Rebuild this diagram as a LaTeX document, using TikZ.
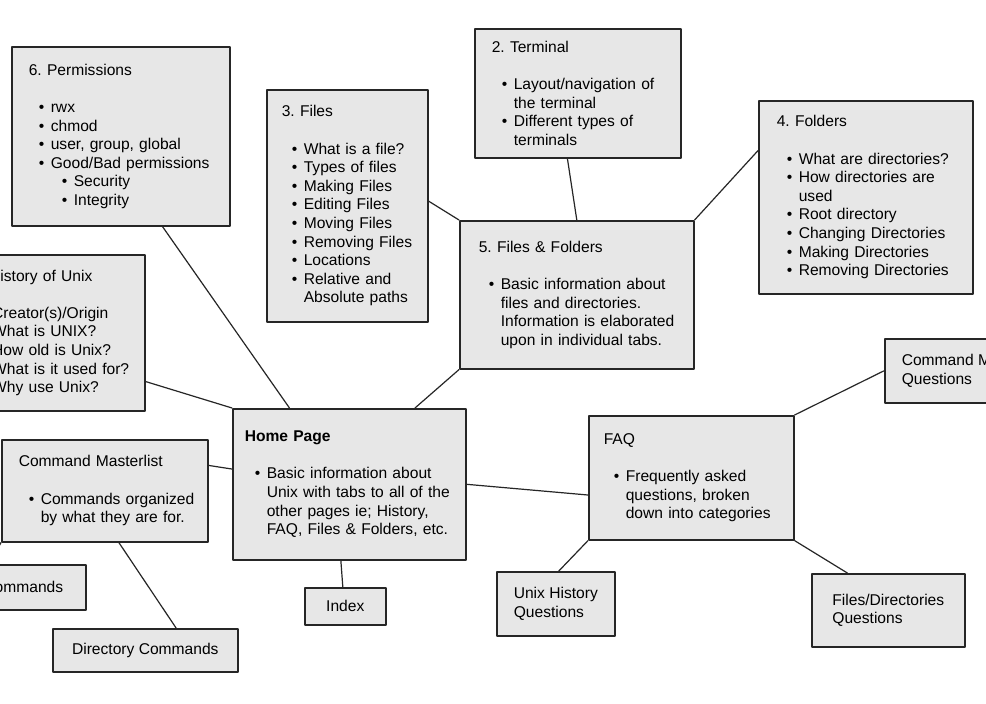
\documentclass[tikz,border=0pt]{standalone}
\usepackage{fontspec}
\setmainfont{Liberation Sans}
\usetikzlibrary{calc}
\frenchspacing

\definecolor{boxgrey}{HTML}{E7E7E7}
\definecolor{edge}{HTML}{262626}
% bullet lines
\newcommand{\itm}[1]{\mbox{\hspace*{10pt}\makebox[12pt][l]{\textbullet}#1}}
\newcommand{\sitm}[1]{\mbox{\hspace*{33pt}\makebox[12pt][l]{\textbullet}#1}}
\newcommand{\cnt}[1]{\mbox{\hspace*{22pt}#1}}
\newcommand{\pln}[1]{\mbox{\hspace*{3pt}#1}}

\begin{document}
\begin{tikzpicture}[x=1pt, y=-1pt, line cap=round, line join=round,
	page/.style={draw=edge, line width=1.6pt, fill=boxgrey, anchor=north west, align=left,
		inner xsep=16pt, inner ysep=0pt, font=\fontsize{15.6}{18.6}\selectfont},
	tab/.style={page, inner xsep=17pt},
	link/.style={draw=edge, line width=1.2pt}]
	\useasboundingbox (0,0) rectangle (986,704);
	\fill[white] (0,0) rectangle (986,704);
	\clip (0,0) rectangle (986,704);
	
	% --- 1. TOPIC PAGES ---
	\node[page, inner xsep=17pt, text width=184pt, minimum height=179pt] (perm) at (11,46) {6. Permissions\\[18.6pt]
		\itm{rwx}\\ \itm{chmod}\\ \itm{user, group, global}\\ \itm{Good/Bad permissions}\\
		\sitm{Security}\\ \sitm{Integrity}};
	\node[page, inner xsep=15pt, text width=131pt, minimum height=232pt] (files) at (266,89) {3. Files\\[18.6pt]
		\itm{What is a file?}\\ \itm{Types of files}\\ \itm{Making Files}\\ \itm{Editing Files}\\
		\itm{Moving Files}\\ \itm{Removing Files}\\ \itm{Locations}\\ \itm{Relative and}\\ \cnt{Absolute paths}};
	\node[page, inner xsep=17pt, text width=172pt, minimum height=129pt] (term) at (474,28) {2. Terminal\\[18.6pt]
		\itm{Layout/navigation of}\\ \cnt{the terminal}\\ \itm{Different types of}\\ \cnt{terminals}};
	\node[page, inner xsep=18pt, text width=178pt, minimum height=193pt] (fold) at (758,100) {4. Folders\\[18.6pt]
		\itm{What are directories?}\\ \itm{How directories are}\\ \cnt{used}\\ \itm{Root directory}\\
		\itm{Changing Directories}\\ \itm{Making Directories}\\ \itm{Removing Directories}};
	\node[page, inner xsep=19pt, text width=196pt, minimum height=148pt] (ff) at (459,220) {5. Files \& Folders\\[18.6pt]
		\itm{Basic information about}\\ \cnt{files and directories.}\\ \cnt{Information is elaborated}\\ \cnt{upon in individual tabs.}};
	\node[page, anchor=north east, text width=140pt, minimum height=156pt] (hist) at (146,254) {History of Unix\\[18.6pt]
		\pln{Creator(s)/Origin}\\ \pln{What is UNIX?}\\ \pln{How old is Unix?}\\ \pln{What is it used for?}\\ \pln{Why use Unix?}};
	
	% --- 2. HOME PAGE ---
	\node[page, inner xsep=12pt, text width=209pt, minimum height=151pt] (home) at (232,408) {\textbf{Home Page}\\[18.6pt]
		\itm{Basic information about}\\ \cnt{Unix with tabs to all of the}\\ \cnt{other pages ie; History,}\\ \cnt{FAQ, Files \& Folders, etc.}};
	\node[tab, minimum width=81pt, minimum height=37pt] (idx) at (304,587) {Index};
	
	% --- 3. COMMANDS ---
	\node[page, inner xsep=17pt, text width=172pt, minimum height=102pt] (cml) at (1,439) {Command Masterlist\\[18.6pt]
		\itm{Commands organized}\\ \cnt{by what they are for.}};
	\node[tab, anchor=north east, inner xsep=23pt, minimum height=45pt] (cmds) at (87,564) {Commands};
	\node[tab, minimum width=185pt, minimum height=43pt] (dir) at (52,628) {Directory Commands};
	\coordinate (cmlOut) at (-20,580);
	
	% --- 4. FAQ ---
	\node[page, inner xsep=15pt, text width=175pt, minimum height=124pt] (faq) at (588,415) {FAQ\\[18.6pt]
		\itm{Frequently asked}\\ \cnt{questions, broken}\\ \cnt{down into categories}};
	\node[tab, minimum height=64pt] (cmq) at (884,338) {Command Masterlist\\Questions};
	\node[tab, minimum width=118pt, minimum height=64pt] (uhq) at (496,571) {Unix History\\Questions};
	\node[tab, minimum width=153pt, minimum height=73pt] (fdq) at (811,573) {Files/Directories\\Questions};
	
	% --- 5. CONNECTORS ---
	\draw[link] ($(perm.south west)!.69!(perm.south east)$) -- ($(home.north west)!.245!(home.north east)$);
	\draw[link] ($(files.north east)!.48!(files.south east)$) -- (ff.north west);
	\draw[link] ($(term.south west)!.45!(term.south east)$) -- (ff.north);
	\draw[link] ($(fold.north west)!.26!(fold.south west)$) -- (ff.north east);
	\draw[link] (ff.south west) -- ($(home.north west)!.78!(home.north east)$);
	\draw[link] ($(hist.north east)!.81!(hist.south east)$) -- (home.north west);
	\draw[link] ($(cml.north east)!.255!(cml.south east)$) -- ($(home.north west)!.40!(home.south west)$);
	\draw[link] ($(cml.south west)!.568!(cml.south east)$) -- ($(dir.north west)!.665!(dir.north east)$);
	\draw[link] (cml.south west) -- (cmlOut);
	\draw[link] ($(home.south west)!.464!(home.south east)$) -- ($(idx.north west)!.47!(idx.north east)$);
	\draw[link] (home.east) -- ($(faq.north west)!.637!(faq.south west)$);
	\draw[link] (faq.north east) -- (cmq.west);
	\draw[link] (faq.south west) -- ($(uhq.north west)!.525!(uhq.north east)$);
	\draw[link] (faq.south east) -- ($(fdq.north west)!.235!(fdq.north east)$);
\end{tikzpicture}
\end{document}
